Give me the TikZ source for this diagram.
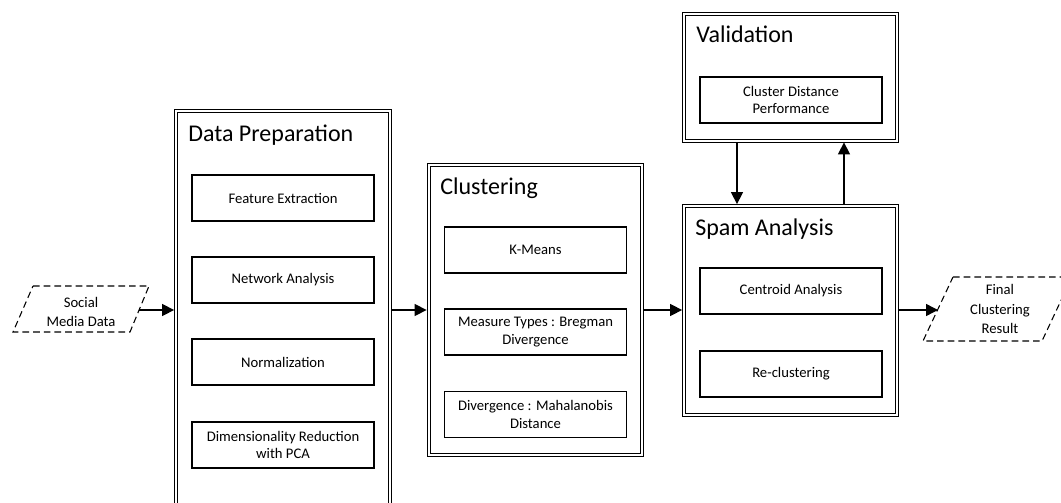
\documentclass[tikz,border=0pt]{standalone}
\usepackage{fontspec}
\setmainfont{Carlito}
\usetikzlibrary{arrows.meta,fit,calc}
\begin{document}
\begin{tikzpicture}[x=0.75pt,y=-0.75pt,
  group/.style={draw, line width=0.6pt, inner sep=0pt},
  inner/.style={draw, line width=1pt, inner sep=0pt, minimum width=136.5pt, minimum height=34.5pt, align=center, font=\fontsize{11}{13.4}\selectfont},
  title/.style={anchor=base west, inner sep=0pt, font=\fontsize{18}{21}\selectfont},
  io/.style={draw, dash pattern=on 5pt off 3pt, line width=0.8pt},
  iotext/.style={align=center, inner sep=0pt, font=\fontsize{11}{14.5}\selectfont},
  flow/.style={line width=1.1pt, -{Triangle[length=9pt,width=9pt]}}]
\useasboundingbox (0,0) rectangle (1061,503);
\clip (0,0) rectangle (1061,503);

% Social Media Data
\draw[io] (33,286) -- (149,286) -- (130,332) -- (13,332) -- cycle;
\node[iotext] (sm) at (81,312) {Social\\Media Data};
\coordinate (smout) at (138.5,310);

% Data Preparation
\node[group, fit={(174.5,109) (391.5,520)}] (dp) {};
\node[group, fit={(177.5,112) (388.5,520)}] (dpi) {};
\node[title] (dpt) at (188,142) {Data Preparation};
\node[inner] (fe) at (283,198) {Feature Extraction};
\node[inner] (na) at (283,280) {Network Analysis};
\node[inner] (no) at (283,362) {Normalization};
\node[inner] (dr) at (283,445) {Dimensionality Reduction\\with PCA};

% Clustering
\node[group, fit={(427,163) (643,456)}] (cl) {};
\node[group, fit={(430,166) (640,453)}] (cli) {};
\node[title] (clt) at (440,194) {Clustering};
\node[inner] (km) at (535.5,250) {K-Means};
\node[inner] (mt) at (535.5,332) {Measure Types : Bregman\\Divergence};
\node[inner] (dv) at (535.5,414.5) {Divergence : Mahalanobis\\Distance};

% Validation
\node[group, fit={(682.5,12) (898.5,142)}] (va) {};
\node[group, fit={(685.5,15) (895.5,139)}] (vai) {};
\node[title] (vat) at (696,43) {Validation};
\node[inner] (cd) at (791,100) {Cluster Distance\\Performance};

% Spam Analysis
\node[group, fit={(682.5,204.5) (898.5,416)}] (sa) {};
\node[group, fit={(685.5,207.5) (895.5,413)}] (sai) {};
\node[title] (sat) at (695,235) {Spam Analysis};
\node[inner] (ca) at (791,291) {Centroid Analysis};
\node[inner] (rc) at (791,374) {Re-clustering};

% Final Clustering Result
\draw[io] (953,277) -- (1072,277) -- (1042,341) -- (923,341) -- cycle;
\node[iotext] (fr) at (1000,309) {Final\\Clustering\\Result};
\coordinate (frin) at (938,310);

% Connectors
\draw[flow] (smout) -- (smout -| dp.west);
\draw[flow] (dp.east |- smout) -- (cl.west |- smout);
\draw[flow] (cl.east |- smout) -- (sa.west |- smout);
\draw[flow] (sa.east |- frin) -- (frin);
\coordinate (vdown) at (737,0);
\coordinate (vup) at (844,0);
\draw[flow] (vdown |- va.south) -- (vdown |- sa.north);
\draw[flow] (vup |- sa.north) -- (vup |- va.south);
\end{tikzpicture}
\end{document}
